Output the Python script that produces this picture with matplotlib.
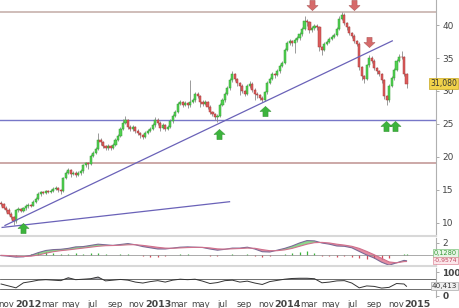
import numpy as np
import pandas as pd
import matplotlib
matplotlib.use("Agg")
import matplotlib.pyplot as plt
from matplotlib.path import Path
from matplotlib.transforms import blended_transform_factory

# weekly candles, first week starting 2011-10-17
closes = [12.8, 12.3, 12.0, 11.4, 10.9, 10.2, 11.9, 12.1, 11.8, 12.2, 12.5, 12.7,
          12.6, 13.2, 13.6, 14.3, 14.6, 14.5, 14.8, 14.7, 14.9, 15.2, 15.3, 15.0,
          14.8, 16.8, 17.6, 18.0, 17.4, 17.6, 17.3, 17.5, 17.8, 18.7, 19.0, 18.9,
          20.2, 20.6, 21.2, 22.5, 22.2, 21.6, 21.3, 21.6, 21.4, 21.8, 22.6, 23.2,
          24.3, 25.2, 25.6, 24.6, 24.2, 24.5, 24.0, 23.6, 23.3, 23.0, 23.6, 24.0,
          24.3, 24.8, 25.6, 25.2, 24.4, 24.8, 24.3, 24.6, 25.4, 26.2, 26.8, 28.0,
          28.3, 27.9, 28.2, 27.8, 28.4, 28.6, 29.5, 29.2, 28.4, 28.0, 28.3, 27.6,
          26.8, 26.5, 26.0, 26.2, 27.9, 28.6, 29.6, 30.4, 31.6, 32.6, 31.8, 31.2,
          30.8, 30.0, 29.6, 30.8, 31.1, 30.2, 29.6, 29.4, 29.0, 28.7, 29.8, 31.2,
          31.8, 32.6, 32.4, 33.0, 33.8, 34.3, 36.2, 37.3, 37.6, 37.3, 37.8, 38.0,
          38.6, 39.4, 40.6, 40.4, 39.2, 39.6, 39.9, 39.7, 36.6, 36.2, 37.2, 37.5,
          37.9, 38.2, 38.5, 39.4, 40.9, 41.6, 40.3, 39.7, 38.8, 38.4, 37.6, 37.2,
          33.6, 32.2, 31.8, 33.9, 35.0, 34.6, 33.5, 33.0, 32.6, 31.6, 29.2, 28.6,
          30.8, 31.9, 33.2, 34.6, 35.2, 35.1, 32.6, 31.08]
highs = [13.3, 13.0, 12.5, 12.2, 11.6, 11.1, 12.1, 12.4, 12.3, 12.4, 12.8, 13.0,
         12.9, 13.4, 13.9, 14.6, 14.9, 14.8, 15.0, 15.0, 15.1, 15.4, 15.6, 15.5,
         15.2, 17.0, 17.9, 18.3, 18.2, 17.9, 17.8, 17.8, 18.1, 18.9, 19.3, 19.2,
         20.4, 20.9, 21.5, 23.6, 22.8, 22.4, 21.8, 21.9, 21.8, 22.1, 22.9, 23.5,
         24.6, 25.8, 26.2, 25.8, 24.8, 24.9, 24.7, 24.2, 23.8, 23.5, 23.9, 24.3,
         24.6, 25.1, 26.0, 25.9, 25.4, 25.1, 25.0, 24.9, 25.7, 26.5, 27.1, 28.3,
         28.7, 28.5, 28.5, 28.4, 31.7, 28.9, 29.8, 29.8, 29.4, 28.6, 28.6, 28.5,
         27.8, 27.0, 26.7, 26.5, 28.1, 28.9, 29.9, 30.7, 31.9, 33.0, 32.8, 32.0,
         31.4, 31.0, 30.2, 31.1, 31.5, 31.3, 30.4, 29.8, 29.6, 29.2, 30.0, 31.5,
         32.1, 32.9, 32.8, 33.3, 34.1, 34.6, 36.5, 37.6, 37.9, 37.8, 38.1, 38.4,
         38.9, 39.7, 41.4, 40.9, 40.6, 39.9, 40.2, 40.1, 39.9, 36.8, 37.5, 37.8,
         38.2, 38.5, 38.8, 39.7, 41.3, 42.0, 41.9, 40.5, 39.9, 39.0, 38.6, 37.8,
         37.4, 33.8, 32.4, 34.1, 35.4, 35.3, 34.8, 33.7, 33.2, 32.8, 31.8, 29.4,
         31.0, 32.2, 33.5, 34.9, 35.6, 36.1, 35.3, 32.8]
lows = [12.6, 12.1, 11.7, 11.2, 10.6, 9.6, 10.0, 11.7, 11.6, 11.6, 12.0, 12.3,
        12.4, 12.5, 13.0, 13.5, 14.1, 14.3, 14.3, 14.5, 14.5, 14.7, 15.0, 14.6,
        14.4, 14.7, 16.6, 17.4, 17.0, 17.2, 17.0, 17.1, 17.3, 17.6, 18.5, 18.2,
        18.8, 20.0, 20.4, 21.0, 21.8, 21.3, 21.0, 21.1, 21.0, 21.2, 21.6, 22.4,
        23.0, 24.1, 25.0, 24.3, 23.9, 24.0, 23.7, 23.3, 22.9, 22.7, 22.8, 23.4,
        23.8, 24.1, 24.6, 24.9, 24.0, 24.2, 23.9, 24.1, 24.4, 25.2, 26.0, 26.6,
        27.8, 27.5, 27.7, 27.4, 27.6, 28.1, 28.4, 28.9, 27.6, 27.7, 27.8, 27.3,
        26.5, 26.2, 25.6, 25.3, 26.0, 27.7, 28.4, 29.4, 30.2, 31.4, 31.5, 30.8,
        29.4, 29.7, 29.2, 29.4, 30.5, 29.9, 28.6, 29.0, 28.7, 28.3, 28.5, 29.6,
        31.0, 31.6, 32.0, 32.2, 32.8, 33.6, 34.1, 36.0, 37.0, 36.8, 35.8, 37.5,
        37.8, 38.4, 39.2, 39.9, 38.8, 38.9, 39.3, 39.3, 36.0, 35.4, 36.0, 37.0,
        37.3, 37.7, 38.0, 38.3, 39.2, 40.7, 40.0, 39.3, 38.5, 38.0, 37.3, 36.8,
        33.2, 31.6, 31.2, 31.6, 33.7, 34.2, 33.2, 32.6, 32.2, 31.2, 28.8, 27.9,
        28.4, 30.6, 31.7, 33.0, 34.4, 34.8, 32.3, 30.5]
first_open = 13.0

# indicators read every third week
macd = [-0.1, -0.2, -0.35, -0.3, -0.05, 0.4, 0.75, 0.9, 0.95, 1.1, 1.35, 1.4,
        1.6, 1.8, 1.7, 1.6, 1.75, 1.9, 1.7, 1.4, 1.2, 1.0, 1.0, 1.15,
        1.3, 1.35, 1.3, 1.25, 1.0, 0.8, 0.95, 1.15, 1.15, 1.3, 1.0, 0.55,
        0.5, 0.8, 1.1, 1.5, 2.0, 2.4, 2.35, 2.0, 1.8, 1.5, 1.45, 1.2,
        0.6, 0.0, -0.5, -1.2, -1.7, -1.3, -0.9, -0.957]
signal = [-0.05, -0.1, -0.2, -0.25, -0.2, 0.0, 0.3, 0.55, 0.72, 0.85, 1.0, 1.15,
          1.3, 1.45, 1.55, 1.58, 1.62, 1.7, 1.72, 1.6, 1.45, 1.28, 1.15, 1.12,
          1.18, 1.24, 1.27, 1.27, 1.18, 1.02, 0.98, 1.03, 1.08, 1.15, 1.12, 0.9,
          0.72, 0.72, 0.85, 1.1, 1.45, 1.8, 2.05, 2.1, 2.0, 1.8, 1.65, 1.45,
          1.1, 0.6, 0.05, -0.55, -1.15, -1.3, -1.1, -1.085]
rsi = [50, 42, 34, 55, 60, 66, 68, 66, 64, 76, 68, 70,
       72, 79, 63, 66, 69, 66, 58, 54, 60, 64, 58, 66,
       70, 68, 70, 62, 52, 56, 64, 66, 58, 62, 54, 48,
       60, 65, 70, 73, 74, 74, 72, 55, 58, 63, 64, 54,
       34, 42, 40, 33, 36, 52, 50, 40.413]

support_levels = [42.0, 25.6, 19.1]
trend1 = (["2011-10-28", "2014-10-22"], [9.6, 37.6])
trend2 = (["2011-10-20", "2013-07-21"], [9.3, 13.2])
up_arrows = (["2011-12-17", "2013-06-20", "2013-10-30", "2014-10-05", "2014-10-30"],
             [9.2, 23.5, 27.0, 24.7, 24.7])
down_arrows = (["2014-03-11", "2014-07-07", "2014-08-18"], [43.0, 43.0, 37.4])

dates = pd.date_range("2011-10-17", periods=len(closes), freq="7D")
opens = [first_open] + closes[:-1]
ind_pos = list(range(0, len(closes) - 1, 3)) + [len(closes) - 1]
ind_dates = dates[ind_pos]

W, H = 460, 308
fig = plt.figure(figsize=(W / 100, H / 100), dpi=100)
fig.patch.set_facecolor("white")
right = 436 / W
ax = fig.add_axes([0, 1 - 236 / H, right, 236 / H])
axm = fig.add_axes([0, 1 - 266 / H, right, 28 / H], sharex=ax)
axr = fig.add_axes([0, 1 - 297 / H, right, 29 / H], sharex=ax)

green = "#52d052"
red = "#dc5c5c"
txt = "#444444"

# candles
o = np.array(opens)
c = np.array(closes)
up = c >= o
ax.vlines(dates, lows, highs, color="#8a8a8a", lw=0.6, zorder=2)
ax.bar(dates[up], (c - o)[up], bottom=o[up], width=6, color=green,
       edgecolor="#2f9f2f", lw=0.35, zorder=3)
ax.bar(dates[~up], (o - c)[~up], bottom=c[~up], width=6, color=red,
       edgecolor="#a83a3a", lw=0.35, zorder=3)

ax.axhline(support_levels[0], color="#c7b2ad", lw=1.2, zorder=1)
ax.axhline(support_levels[1], color="#7777c8", lw=1.0, zorder=1)
ax.axhline(support_levels[2], color="#c49a98", lw=1.2, zorder=1)
ax.plot(pd.to_datetime(trend1[0]), trend1[1], color="#6a62b8", lw=0.9, zorder=4)
ax.plot(pd.to_datetime(trend2[0]), trend2[1], color="#6a62b8", lw=0.9, zorder=4)

arrow_up = Path([(-0.3, -0.6), (0.3, -0.6), (0.3, 0.0), (0.65, 0.0), (0, 0.6),
                 (-0.65, 0.0), (-0.3, 0.0), (-0.3, -0.6)], closed=True)
arrow_dn = Path([(x, -y) for x, y in arrow_up.vertices], closed=True)
ax.plot(pd.to_datetime(up_arrows[0]), up_arrows[1], ls="none", marker=arrow_up,
        ms=8, color="#3cb43c", mec="#2a8a2a", mew=0.3, zorder=5)
ax.plot(pd.to_datetime(down_arrows[0]), down_arrows[1], ls="none", marker=arrow_dn,
        ms=8, color="#d66a6a", mec="#a04848", mew=0.3, zorder=5)

ax.set_ylim(8.0, 43.8)
ax.set_xlim(pd.Timestamp("2011-10-14"), pd.Timestamp("2015-02-22"))

# MACD panel
mc = np.array(macd)
sg = np.array(signal)
axm.fill_between(ind_dates, mc, sg, where=mc >= sg, interpolate=True,
                 color="#6fcf6f", alpha=0.8, lw=0)
axm.fill_between(ind_dates, mc, sg, where=mc < sg, interpolate=True,
                 color="#e0708a", alpha=0.8, lw=0)
hist = mc - sg
axm.vlines(ind_dates, 0, hist, colors=np.where(hist >= 0, "#3cb43c", "#d04a5a"),
           lw=0.9)
axm.axhline(0, color="#888888", lw=0.5)
axm.plot(ind_dates, mc, color="#7a6a96", lw=0.8)
axm.plot(ind_dates, sg, color="#d0708c", lw=0.8)
axm.set_ylim(-1.83, 2.83)

# RSI panel
rs = np.array(rsi, dtype=float)
axr.fill_between(ind_dates, rs, 70, where=rs >= 70, interpolate=True,
                 color="#a8a8b0", lw=0)
axr.fill_between(ind_dates, rs, 30, where=rs <= 30, interpolate=True,
                 color="#a8a8b0", lw=0)
axr.axhline(70, color="#555555", lw=0.6)
axr.axhline(30, color="#555555", lw=0.6)
axr.plot(ind_dates, rs, color="#333333", lw=0.7)
axr.set_ylim(-4.2, 116.7)

for a in (ax, axm, axr):
    a.set_facecolor("white")
    for s in ("left", "top"):
        a.spines[s].set_visible(False)
    a.spines["right"].set_color("#b0b0b0")
    a.spines["right"].set_linewidth(0.8)
    a.spines["bottom"].set_color("#d8d8d8")
    a.spines["bottom"].set_linewidth(1.5)
    a.yaxis.tick_right()
    a.tick_params(axis="y", direction="out", length=2.5, width=0.5, color="#888888",
                  labelsize=6.5, labelcolor=txt, pad=2)
    a.tick_params(axis="x", length=0)

ax.set_yticks([10, 15, 20, 25, 30, 35, 40])
axm.set_yticks([2])
axr.set_yticks([100, 0])
for lab in axr.get_yticklabels():
    lab.set_fontweight("bold")
axr.spines["bottom"].set_visible(False)

# x ticks
ticks = pd.date_range("2011-11-01", "2015-01-01", freq="2MS")
labels = [str(d.year) if d.month == 1 else d.strftime("%b").lower() for d in ticks]
axr.set_xticks(ticks)
axr.set_xticklabels(labels)
axr.tick_params(axis="x", labelsize=6.2, labelcolor=txt, pad=2)
for lab, d in zip(axr.get_xticklabels(), ticks):
    if d.month == 1:
        lab.set_fontweight("bold")
        lab.set_fontsize(6.8)
plt.setp(ax.get_xticklabels(), visible=False)
plt.setp(axm.get_xticklabels(), visible=False)

# last value boxes, right-aligned to the figure edge
def tag(a, y, s, fc, ec, tc, size=5.6):
    tr = blended_transform_factory(fig.transFigure, a.transData)
    a.text(457 / W, y, s, transform=tr, fontsize=size, color=tc, va="center",
           ha="right", clip_on=False,
           bbox=dict(boxstyle="square,pad=0.12", fc=fc, ec=ec, lw=0.5))

tag(ax, closes[-1], "31,080", "#f2d24a", "#c8a820", "#333333")
tag(axm, 0.3, "0,1280", "#e6f5e6", "#7fc47f", "#3a9a3a", 4.8)
tag(axm, -0.95, "-0,9574", "#fbe6ea", "#e08a9a", "#c04860", 4.4)
tag(axr, 40.413, "40,413", "#eeeeee", "#aaaaaa", "#333333", 5.2)

fig.savefig("out.png", dpi=100, facecolor="white")
